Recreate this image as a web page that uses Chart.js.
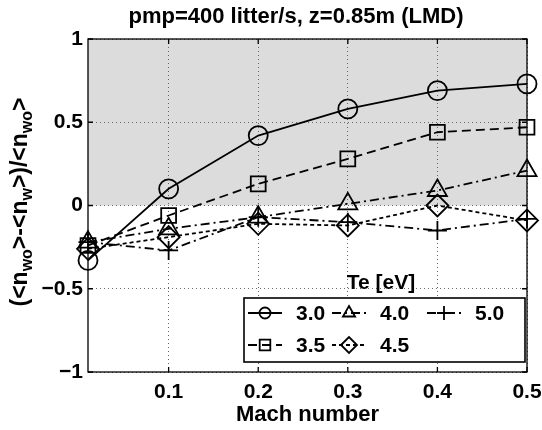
<!DOCTYPE html>
<html>
<head>
<meta charset="utf-8">
<script src="https://cdn.jsdelivr.net/npm/chart.js@4.4.0/dist/chart.umd.min.js"></script>
<style>
  html, body { margin: 0; padding: 0; background: #fff; }
</style>
</head>
<body>
<canvas id="machChart" width="542" height="430"></canvas>
<script>
    // --- DATA ---
    const machNumbers = [0.01, 0.1, 0.2, 0.3, 0.4, 0.5];
    const te30 = [-0.33, 0.10, 0.42, 0.58, 0.69, 0.73];
    const te35 = [-0.24, -0.06, 0.13, 0.28, 0.44, 0.47];
    const te40 = [-0.22, -0.14, -0.07, 0.01, 0.09, 0.21];
    const te45 = [-0.26, -0.19, -0.11, -0.12, 0.00, -0.09];
    const te50 = [-0.22, -0.27, -0.07, -0.10, -0.15, -0.08];
    const xTicks = [0.1, 0.2, 0.3, 0.4, 0.5];
    const yTicks = [-1, -0.5, 0, 0.5, 1];

    const FONT = '"Liberation Sans", Arial, Helvetica, sans-serif';

    function makeSet(label, values, style, radius, dash, legendR) {
        return {
            label: label,
            data: values.map((v, i) => ({ x: machNumbers[i], y: v })),
            borderColor: '#000',
            borderWidth: 1.8,
            borderDash: dash,
            pointStyle: style,
            pointRadius: radius,
            pointBorderColor: '#000',
            pointBackgroundColor: 'rgba(0,0,0,0)',
            pointBorderWidth: 1.8,
            tension: 0,
            clip: false,
            legendR: legendR
        };
    }

    const datasets = [
        makeSet('3.0', te30, 'circle', 9.5, [], 5.5),
        makeSet('3.5', te35, 'rect', 10.5, [9, 5], 7.5),
        makeSet('4.0', te40, 'triangle', 11, [9, 4, 2, 4], 7),
        makeSet('4.5', te45, 'rectRot', 11, [4, 3], 8),
        makeSet('5.0', te50, 'cross', 9.5, [9, 4, 2, 4], 7)
    ];

    // legend slots (column, row) like the MATLAB legend
    const legendSlots = [[0, 0], [0, 1], [1, 0], [1, 1], [2, 0]];

    function drawMarker(ctx, style, r, x, y) {
        if (Chart.helpers && Chart.helpers.drawPoint) {
            Chart.helpers.drawPoint(ctx, { pointStyle: style, rotation: 0, radius: r, borderWidth: 1.8 }, x, y);
            return;
        }
        ctx.beginPath();
        ctx.arc(x, y, r, 0, Math.PI * 2);
        ctx.stroke();
    }

    function drawYTitle(ctx, cx, cy) {
        const parts = [['(<n', 0], ['wo', 1], ['>-<n', 0], ['w', 1], ['>)/<n', 0], ['wo', 1], ['>', 0]];
        const big = 'bold 23px ' + FONT;
        const small = 'bold 16px ' + FONT;
        let total = 0;
        const widths = parts.map(p => {
            ctx.font = p[1] ? small : big;
            const w = ctx.measureText(p[0]).width;
            total += w;
            return w;
        });
        ctx.save();
        ctx.translate(cx, cy);
        ctx.rotate(-Math.PI / 2);
        ctx.fillStyle = '#000';
        ctx.textAlign = 'left';
        ctx.textBaseline = 'alphabetic';
        let x = -total / 2;
        parts.forEach((p, i) => {
            ctx.font = p[1] ? small : big;
            ctx.fillText(p[0], x, p[1] ? 12 : 7);
            x += widths[i];
        });
        ctx.restore();
    }

    const framePlugin = {
        id: 'frame',
        beforeDraw(chart) {
            const { ctx, chartArea: a, scales: { y } } = chart;
            const yTop = y.getPixelForValue(1);
            const yZero = y.getPixelForValue(0);
            ctx.save();
            ctx.fillStyle = '#dcdcdc';
            ctx.fillRect(a.left, yTop, a.right - a.left, yZero - yTop);
            ctx.restore();
        },
        afterDatasetsDraw(chart) {
            const { ctx, chartArea: a, scales: { x, y } } = chart;
            ctx.save();

            // axes box + inward ticks
            ctx.strokeStyle = '#000';
            ctx.lineWidth = 1.3;
            ctx.setLineDash([]);
            ctx.strokeRect(a.left, a.top, a.right - a.left, a.bottom - a.top);
            ctx.beginPath();
            xTicks.forEach(v => {
                const px = x.getPixelForValue(v);
                ctx.moveTo(px, a.bottom); ctx.lineTo(px, a.bottom - 5);
                ctx.moveTo(px, a.top); ctx.lineTo(px, a.top + 5);
            });
            yTicks.forEach(v => {
                const py = y.getPixelForValue(v);
                ctx.moveTo(a.left, py); ctx.lineTo(a.left + 5, py);
                ctx.moveTo(a.right, py); ctx.lineTo(a.right - 5, py);
            });
            ctx.stroke();

            // legend
            const bx = a.right - 283, by = a.bottom - 74, bw = 281, bh = 64;
            ctx.fillStyle = '#fff';
            ctx.fillRect(bx, by, bw, bh);
            ctx.lineWidth = 1.6;
            ctx.strokeRect(bx, by, bw, bh);

            const colX = [bx + 4, bx + 88, bx + 183];
            const rowY = [by + 15, by + 47];
            chart.data.datasets.forEach((ds, i) => {
                const [c, r] = legendSlots[i];
                const x0 = colX[c], x1 = x0 + 34, yy = rowY[r];
                ctx.strokeStyle = '#000';
                ctx.lineWidth = 1.8;
                ctx.setLineDash(ds.borderDash || []);
                ctx.beginPath();
                ctx.moveTo(x0, yy); ctx.lineTo(x1, yy);
                ctx.stroke();
                ctx.setLineDash([]);
                ctx.fillStyle = 'rgba(0,0,0,0)';
                drawMarker(ctx, ds.pointStyle, ds.legendR, (x0 + x1) / 2, yy);
                ctx.fillStyle = '#000';
                ctx.font = 'bold 21px ' + FONT;
                ctx.textAlign = 'left';
                ctx.textBaseline = 'middle';
                ctx.fillText(ds.label, x1 + 14, yy + 1);
            });

            // legend title
            ctx.font = 'bold 21px ' + FONT;
            ctx.textAlign = 'center';
            ctx.textBaseline = 'middle';
            ctx.fillText('Te [eV]', bx + 137, by - 15);

            // chart title and axis titles
            ctx.font = 'bold 22px ' + FONT;
            ctx.fillText('pmp=400 litter/s, z=0.85m (LMD)', 296, 17);
            ctx.font = 'bold 22px ' + FONT;
            ctx.fillText('Mach number', (a.left + a.right) / 2, 415);
            drawYTitle(ctx, 20, 202);

            ctx.restore();
        }
    };

    function initChart() {
        const ctx = document.getElementById('machChart').getContext('2d');
        new Chart(ctx, {
            type: 'line',
            data: { datasets: datasets },
            options: {
                responsive: false,
                animation: false,
                events: [],
                layout: { padding: { top: 39, right: 15, left: 0, bottom: 0 } },
                scales: {
                    x: {
                        type: 'linear',
                        min: 0.01,
                        max: 0.5,
                        afterBuildTicks: s => { s.ticks = xTicks.map(v => ({ value: v })); },
                        afterFit: s => { s.height = 58; s.paddingLeft = 0; s.paddingRight = 0; },
                        grid: { color: '#666', lineWidth: 1, drawTicks: false },
                        border: { display: false, dash: [1, 3] },
                        ticks: {
                            padding: 8,
                            color: '#000',
                            maxRotation: 0,
                            font: { family: FONT, size: 21, weight: 'bold' },
                            callback: v => v.toFixed(1)
                        }
                    },
                    y: {
                        min: -1,
                        max: 1,
                        afterBuildTicks: s => { s.ticks = yTicks.map(v => ({ value: v })); },
                        afterFit: s => { s.width = 88; s.paddingTop = 0; s.paddingBottom = 0; },
                        grid: { color: '#666', lineWidth: 1, drawTicks: false },
                        border: { display: false, dash: [1, 3] },
                        ticks: {
                            padding: 5,
                            color: '#000',
                            font: { family: FONT, size: 21, weight: 'bold' },
                            callback: v => (v < 0 ? '\u2212' + Math.abs(v) : String(v))
                        }
                    }
                },
                plugins: {
                    legend: { display: false },
                    tooltip: { enabled: false },
                    title: { display: false }
                }
            },
            plugins: [framePlugin]
        });
    }

    window.onload = initChart;
</script>
</body>
</html>
